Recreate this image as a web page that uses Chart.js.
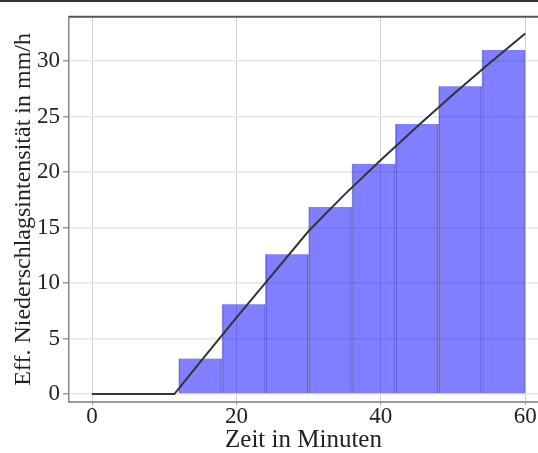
<!DOCTYPE html>
<html>
<head>
<meta charset="utf-8">
<script src="https://cdn.jsdelivr.net/npm/chart.js@4"></script>
<style>
  html, body { margin: 0; padding: 0; background: #fff; }
  #wrap { position: relative; width: 538px; height: 453px; }
  #topline { position: absolute; left: 0; top: 0; width: 538px; height: 2px; background: #333; }
</style>
</head>
<body>
<div id="wrap">
  <canvas id="chart" width="538" height="453"></canvas>
  <div id="topline"></div>
</div>
<script>
// histogram bins (6 minute steps), value = effective rain intensity
var binCenters = [15, 21, 27, 33, 39, 45, 51, 57];
var binValues = [3.2, 8.1, 12.6, 16.85, 20.75, 24.35, 27.75, 31.0];

// smooth curve
var curveMinutes = [0, 11.4, 15, 20, 25, 30, 35, 40, 45, 50, 55, 60];
var curveValues = [0, 0, 2.9, 6.9, 10.8, 14.7, 18.0, 21.1, 24.1, 27.0, 29.8, 32.5];

var xTicks = [0, 20, 40, 60];
var yTicks = [0, 5, 10, 15, 20, 25, 30];

var serif = "'Liberation Serif', 'DejaVu Serif', serif";

function toPoints(xs, ys){
    var pts = [];
    for(var i = 0; i < xs.length; i++){
        pts.push({x: xs[i], y: ys[i]});
    }
    return pts;
}

// top edge of the plot frame
var frameTop = {
    id: 'frameTop',
    afterDraw: function(chart){
        var a = chart.chartArea, ctx = chart.ctx;
        ctx.save();
        ctx.strokeStyle = '#555';
        ctx.lineWidth = 2;
        ctx.beginPath();
        ctx.moveTo(a.left, a.top);
        ctx.lineTo(a.right, a.top);
        ctx.stroke();
        ctx.restore();
    }
};

var graph = new Chart(document.getElementById('chart'), {
    type: 'bar',
    data: {
        datasets: [{
            type: 'line',
            data: toPoints(curveMinutes, curveValues),
            borderColor: '#333',
            borderWidth: 2,
            pointRadius: 0,
            fill: false,
            tension: 0,
            order: 0
        }, {
            type: 'bar',
            data: toPoints(binCenters, binValues),
            backgroundColor: 'rgba(0, 0, 255, 0.5)',
            borderColor: 'rgba(40, 40, 150, 0.45)',
            borderWidth: {left: 1, right: 1, top: 0, bottom: 0},
            borderSkipped: false,
            barPercentage: 1.0,
            categoryPercentage: 1.0,
            grouped: false,
            order: 1
        }]
    },
    options: {
        responsive: false,
        animation: false,
        layout: { padding: { top: 13, right: 0, left: 0, bottom: 0 } },
        plugins: {
            legend: { display: false },
            tooltip: { enabled: false }
        },
        scales: {
            x: {
                type: 'linear',
                min: -3.19,
                max: 61.77,
                offset: false,
                afterBuildTicks: function(axis){
                    axis.ticks = xTicks.map(function(v){ return {value: v}; });
                },
                afterFit: function(axis){ axis.height = 51; },
                ticks: {
                    includeBounds: false,
                    color: '#222',
                    padding: -2,
                    maxRotation: 0,
                    font: { family: serif, size: 23 }
                },
                grid: {
                    offset: false,
                    color: '#cfcfcf',
                    lineWidth: 1,
                    tickLength: 3,
                    tickColor: '#999'
                },
                border: { color: '#999', width: 2 },
                title: {
                    display: true,
                    text: 'Zeit in Minuten',
                    color: '#222',
                    font: { family: serif, size: 25, lineHeight: 1.0 },
                    padding: { top: 0, bottom: 0 }
                }
            },
            y: {
                type: 'linear',
                min: -0.71,
                max: 34.0,
                afterBuildTicks: function(axis){
                    axis.ticks = yTicks.map(function(v){ return {value: v}; });
                },
                afterFit: function(axis){ axis.width = 69; },
                ticks: {
                    includeBounds: false,
                    color: '#222',
                    padding: 3,
                    font: { family: serif, size: 23 }
                },
                grid: {
                    color: '#e6e6e6',
                    lineWidth: 1.5,
                    tickLength: 6,
                    tickColor: '#999'
                },
                border: { color: '#888', width: 1.5 },
                title: {
                    display: true,
                    text: 'Eff. Niederschlagsintensität in mm/h',
                    color: '#222',
                    font: { family: serif, size: 24, lineHeight: 1.0 },
                    padding: { top: 12, bottom: 0 }
                }
            }
        }
    },
    plugins: [frameTop]
});
</script>
</body>
</html>
